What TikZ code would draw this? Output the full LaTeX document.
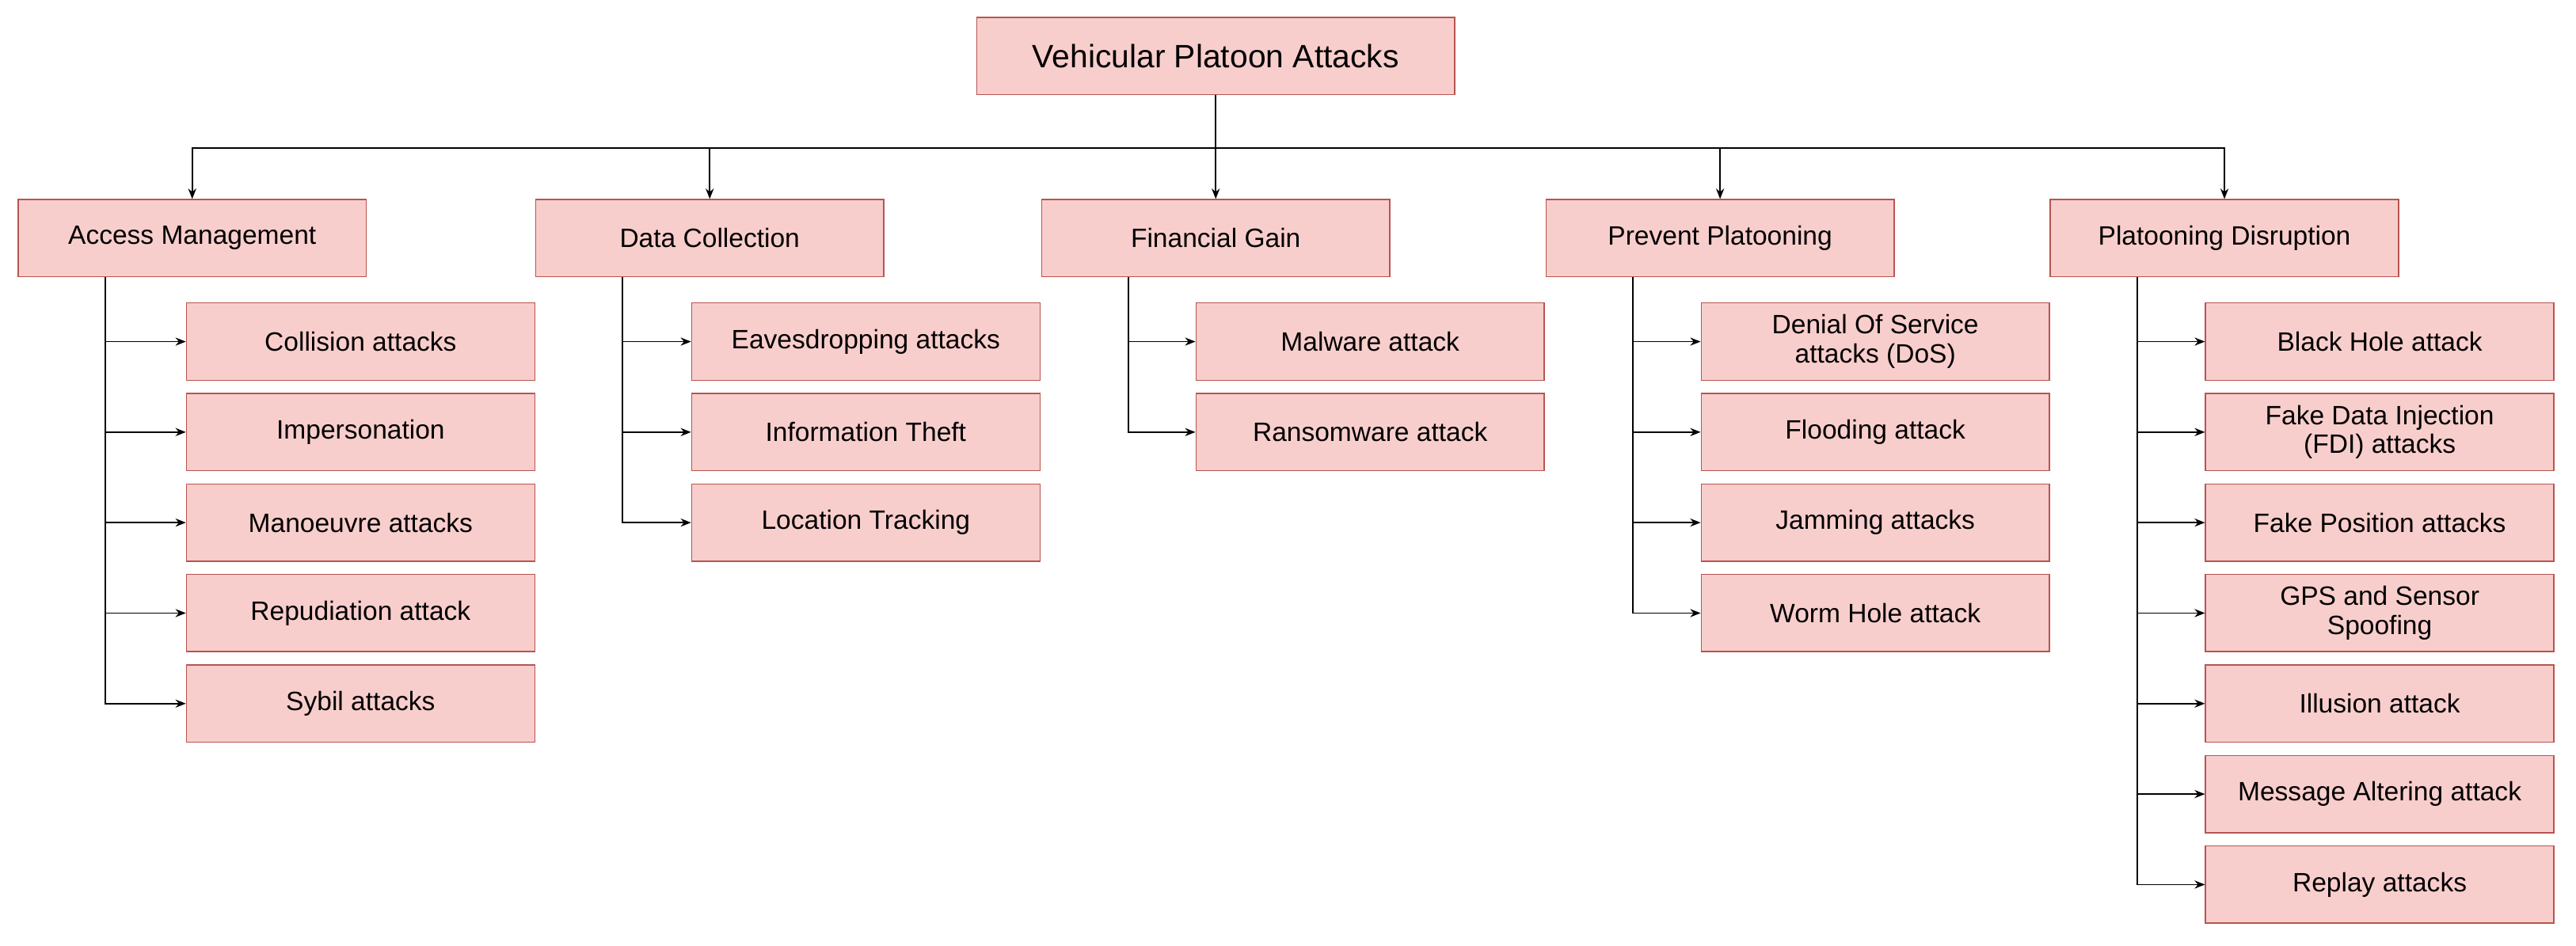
\documentclass[tikz,border=0pt]{standalone}
\usepackage{fontspec}
\setmainfont{Liberation Sans}
\usetikzlibrary{arrows.meta}
\begin{document}
\begin{tikzpicture}[x=0.25mm,y=-0.25mm,
  box/.style={draw=red!55!black!80, fill=red!20!white!95!pink, line width=0.5pt, minimum width=53mm, minimum height=11.75mm, inner sep=1pt, align=center, font=\fontsize{11.5}{12.5}\selectfont},
  line/.style={line width=0.6pt},
  arr/.style={line, -{Stealth[length=4.5pt,width=3.5pt]}}]
\definecolor{bfill}{HTML}{F8CECC}\definecolor{bdraw}{HTML}{B85450}
\tikzset{box/.append style={draw=bdraw, fill=bfill}}
\useasboundingbox (0,0) rectangle (1568,576);
\node[box, minimum width=72.75mm, font=\fontsize{14}{16}\selectfont] (root) at (740,34) {Vehicular Platoon Attacks};
\coordinate (j) at (740,90);
\draw[line] (root.south) -- (j);
\node[box] (a) at (117,145) {Access Management};
\node[box] (b) at (432,145) {Data Collection};
\node[box] (c) at (740,145) {Financial Gain};
\node[box] (d) at (1047,145) {Prevent Platooning};
\node[box] (e) at (1354,145) {Platooning Disruption};
\foreach \p in {a,b,c,d,e} \draw[arr] (j) -| (\p.north);
\foreach \p/\x/\lst in {
 a/219.5/{Collision attacks,Impersonation,Manoeuvre attacks,Repudiation attack,Sybil attacks},
 b/527/{Eavesdropping attacks,Information Theft,Location Tracking},
 c/834/{Malware attack,Ransomware attack},
 d/1141.5/{Denial Of Service\\attacks (DoS),Flooding attack,Jamming attacks,Worm Hole attack},
 e/1448.5/{Black Hole attack,Fake Data Injection\\(FDI) attacks,Fake Position attacks,GPS and Sensor\\Spoofing,Illusion attack,Message Altering attack,Replay attacks}}{
  \foreach \t [count=\i] in \lst {
    \node[box] (\p\i) at (\x,{208+55.1*(\i-1)}) {\t};
    \draw[arr] ([xshift=-13.25mm]\p.south) |- (\p\i.west);
  }
}
\end{tikzpicture}
\end{document}
